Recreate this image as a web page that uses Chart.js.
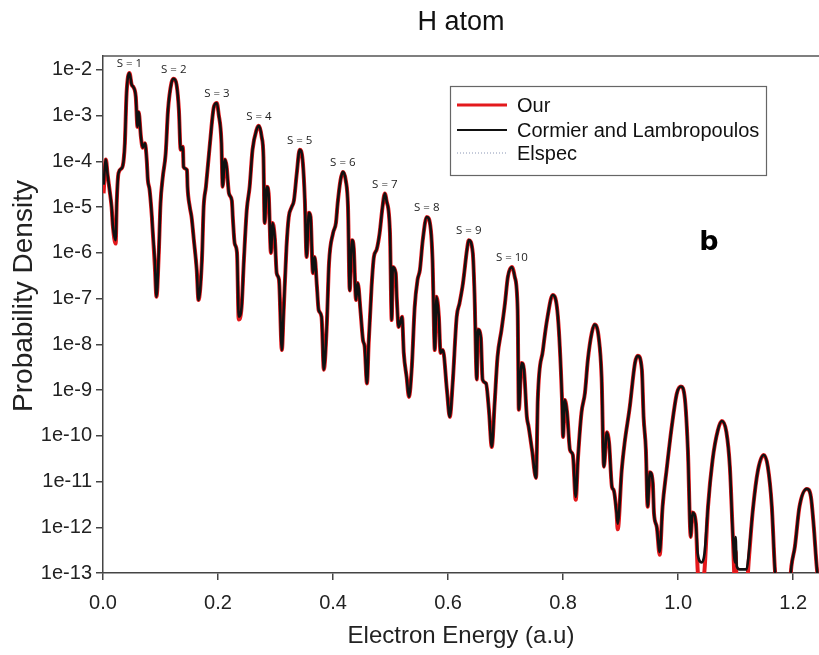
<!DOCTYPE html>
<html lang="en">
<head>
  <meta charset="UTF-8">
  <title>H atom</title>
  <style>
    body { margin: 0; background: #fff; }
    #wrap { width: 819px; height: 655px; position: relative; }
  </style>
  <script src="https://cdn.jsdelivr.net/npm/chart.js"></script>
</head>
<body>
  <div id="wrap"><canvas id="spectrum"></canvas></div>

  <script>
    const energy = [
      0.001,0.005,0.008,0.012,0.015,0.017,0.022,0.024,0.027,0.033,
      0.036,0.038,0.041,0.046,0.050,0.053,0.057,0.060,0.062,0.066,
      0.069,0.073,0.076,0.078,0.081,0.085,0.086,0.090,0.093,0.097,
      0.100,0.104,0.109,0.113,0.119,0.123,0.128,0.132,0.135,0.139,
      0.140,0.146,0.147,0.151,0.154,0.158,0.163,0.166,0.172,0.175,
      0.179,0.186,0.193,0.198,0.201,0.206,0.208,0.212,0.215,0.219,
      0.224,0.226,0.229,0.233,0.236,0.241,0.245,0.250,0.255,0.260,
      0.267,0.271,0.276,0.279,0.281,0.285,0.288,0.292,0.295,0.299,
      0.302,0.306,0.311,0.314,0.319,0.323,0.328,0.332,0.337,0.342,
      0.347,0.351,0.354,0.358,0.361,0.365,0.368,0.372,0.375,0.380,
      0.384,0.389,0.393,0.400,0.405,0.408,0.413,0.417,0.422,0.426,
      0.429,0.433,0.436,0.440,0.443,0.448,0.452,0.455,0.459,0.462,
      0.467,0.471,0.476,0.481,0.486,0.490,0.493,0.499,0.502,0.504,
      0.509,0.511,0.514,0.520,0.523,0.528,0.532,0.537,0.542,0.547,
      0.551,0.556,0.563,0.570,0.573,0.577,0.580,0.584,0.587,0.591,
      0.598,0.603,0.608,0.615,0.620,0.626,0.633,0.636,0.643,0.646,
      0.650,0.652,0.657,0.660,0.666,0.671,0.676,0.681,0.686,0.693,
      0.699,0.704,0.711,0.716,0.721,0.723,0.728,0.732,0.737,0.740,
      0.746,0.753,0.756,0.765,0.773,0.782,0.791,0.798,0.800,0.803,
      0.807,0.812,0.817,0.822,0.826,0.832,0.838,0.843,0.850,0.855,
      0.862,0.867,0.871,0.876,0.880,0.885,0.888,0.893,0.895,0.902,
      0.907,0.916,0.925,0.930,0.937,0.940,0.944,0.947,0.951,0.956,
      0.958,0.963,0.968,0.973,0.980,0.989,0.998,1.005,1.012,1.017,
      1.022,1.025,1.031,1.034,1.041,1.046,1.052,1.060,1.069,1.076,
      1.084,1.090,1.095,1.099,1.100,1.102,1.107,1.119,1.123,1.130,
      1.139,1.149,1.156,1.163,1.168,1.171,1.184,1.194,1.197,1.203,
      1.211,1.224,1.231,1.236,1.241,1.245
    ];

    // Cormier and Lambropoulos (black curve)
    const cormier = [
      3.1e-5,1.1e-4,5.1e-5,2.1e-5,1.0e-5,4.1e-6,1.9e-6,1.4e-5,5.6e-5,7.2e-5,
      1.1e-4,2.5e-4,3.1e-3,8.6e-3,4.7e-3,4.2e-3,2.6e-3,5.7e-4,1.2e-3,3.4e-4,
      2.0e-4,2.5e-4,1.1e-4,3.9e-5,2.4e-5,6.1e-6,3.7e-6,7.0e-7,1.1e-7,1.0e-6,
      1.2e-5,4.6e-5,1.5e-4,1.3e-3,5.2e-3,6.4e-3,4.7e-3,1.3e-3,1.8e-4,2.1e-4,
      7.6e-5,6.5e-5,2.8e-5,1.0e-5,6.1e-6,1.9e-6,4.2e-7,9.3e-8,7.0e-7,1.0e-5,
      2.8e-5,2.5e-4,1.6e-3,1.9e-3,1.1e-3,2.5e-4,2.8e-5,1.1e-4,7.6e-5,2.0e-5,
      1.4e-5,5.2e-6,1.6e-6,1.0e-6,4.0e-8,6.6e-8,7.0e-7,8.7e-6,2.8e-5,1.8e-4,
      4.9e-4,6.0e-4,3.4e-4,1.25e-4,4.5e-6,2.8e-5,2.0e-5,1.0e-6,4.5e-6,1.9e-6,
      3.6e-7,2.6e-7,7.5e-9,4.9e-8,1.3e-6,6.1e-6,1.0e-5,1.4e-5,5.6e-5,1.8e-4,
      1.1e-4,1.4e-5,8.1e-7,7.5e-6,6.1e-6,3.6e-7,8.1e-7,1.8e-7,5.6e-8,4.0e-8,
      2.8e-9,2.4e-8,6.0e-7,2.7e-6,4.5e-6,1.2e-5,3.9e-5,5.9e-5,3.9e-5,1.0e-5,
      1.5e-7,1.9e-6,1.3e-6,9.3e-8,2.2e-7,4.9e-8,1.25e-8,8.8e-9,1.4e-9,1.1e-8,
      1.8e-7,8.1e-7,1.2e-6,2.7e-6,1.0e-5,2.0e-5,1.4e-5,2.7e-6,3.4e-8,4.9e-7,
      3.6e-7,9.3e-8,2.4e-8,4.0e-8,6.5e-9,1.9e-9,7.1e-10,3.2e-9,6.6e-8,2.6e-7,
      4.2e-7,1.9e-6,6.1e-6,3.2e-6,7.0e-7,7.5e-9,1.1e-7,4.0e-8,6.5e-9,7.5e-9,
      1.0e-9,2.6e-10,1.4e-9,4.0e-8,8.0e-8,2.2e-7,1.2e-6,1.9e-6,1.0e-6,1.3e-7,
      1.7e-9,2.1e-8,1.4e-8,1.7e-9,1.4e-9,3.7e-10,5.7e-11,5.2e-10,5.3e-9,2.1e-8,
      8.0e-8,3.0e-7,4.9e-7,3.0e-7,5.6e-8,3.7e-10,3.9e-9,2.8e-9,2.6e-10,1.6e-10,
      4.9e-11,1.2e-11,6.1e-10,7.5e-9,4.0e-8,1.2e-7,4.0e-8,7.1e-10,9.4e-11,6.1e-10,
      3.2e-10,4.9e-11,3.8e-11,4.6e-12,3.4e-11,3.2e-10,8.6e-10,4.5e-9,1.8e-8,2.7e-8,
      1.4e-8,1.9e-9,2.1e-11,1.2e-10,7.0e-11,7.6e-12,6.5e-12,2.1e-12,1.2e-12,1.8e-11,
      7.0e-11,4.3e-10,3.9e-9,5.6e-9,2.8e-9,2.6e-10,4.9e-11,2.8e-12,1.6e-11,9.3e-12,
      2.1e-12,1.0e-12,2.9e-13,2.8e-12,1.8e-11,1.6e-10,8.6e-10,1.2e-9,6.1e-10,4.9e-11,
      6.1e-13,2.1e-12,1.2e-12,2.7e-13,1.7e-13,2.7e-13,2.8e-12,3.0e-11,1.3e-10,2.1e-10,
      1.2e-10,2.1e-11,7.5e-13,1.7e-13,6.1e-13,1.4e-13,1.2e-13,1.2e-13,2.7e-13,2.4e-12,
      1.8e-11,3.8e-11,2.1e-11,2.8e-12,1.4e-13,5e-14,1e-14,5e-14,1.4e-13,3.7e-13,
      2.8e-12,6.9e-12,4.6e-12,1.0e-12,1.4e-13,5e-14
    ];

    // "Our" (red curve) - follows the black one, dips deeper at a few minima
    const our = [
      2.0e-5,1.1e-4,5.1e-5,2.1e-5,1.0e-5,4.1e-6,1.6e-6,1.4e-5,5.6e-5,7.2e-5,
      1.1e-4,2.5e-4,3.1e-3,8.6e-3,4.7e-3,4.2e-3,2.6e-3,5.7e-4,1.2e-3,3.4e-4,
      2.0e-4,2.5e-4,1.1e-4,3.9e-5,2.4e-5,6.1e-6,3.7e-6,5.5e-7,1.1e-7,1.0e-6,
      1.2e-5,4.6e-5,1.5e-4,1.3e-3,5.2e-3,6.4e-3,4.7e-3,1.3e-3,1.8e-4,2.1e-4,
      7.6e-5,6.5e-5,2.8e-5,1.0e-5,6.1e-6,1.9e-6,4.2e-7,9.3e-8,7.0e-7,1.0e-5,
      2.8e-5,2.5e-4,1.6e-3,1.9e-3,1.1e-3,2.5e-4,2.8e-5,1.1e-4,7.6e-5,2.0e-5,
      1.4e-5,5.2e-6,1.6e-6,1.0e-6,3.5e-8,6.6e-8,7.0e-7,8.7e-6,2.8e-5,1.8e-4,
      4.9e-4,6.0e-4,3.4e-4,1.25e-4,4.5e-6,2.8e-5,2.0e-5,1.0e-6,4.5e-6,1.9e-6,
      3.6e-7,2.6e-7,7.5e-9,4.9e-8,1.3e-6,6.1e-6,1.0e-5,1.4e-5,5.6e-5,1.8e-4,
      1.1e-4,1.4e-5,8.1e-7,7.5e-6,6.1e-6,3.6e-7,8.1e-7,1.8e-7,5.6e-8,4.0e-8,
      2.8e-9,2.4e-8,6.0e-7,2.7e-6,4.5e-6,1.2e-5,3.9e-5,5.9e-5,3.9e-5,1.0e-5,
      1.5e-7,1.9e-6,1.3e-6,9.3e-8,2.2e-7,4.9e-8,1.25e-8,8.8e-9,1.4e-9,1.1e-8,
      1.8e-7,8.1e-7,1.2e-6,2.7e-6,1.0e-5,2.0e-5,1.4e-5,2.7e-6,3.4e-8,4.9e-7,
      3.6e-7,9.3e-8,2.4e-8,4.0e-8,6.5e-9,1.9e-9,7.1e-10,3.2e-9,6.6e-8,2.6e-7,
      4.2e-7,1.9e-6,6.1e-6,3.2e-6,7.0e-7,7.5e-9,1.1e-7,4.0e-8,6.5e-9,7.5e-9,
      1.0e-9,2.6e-10,1.4e-9,4.0e-8,8.0e-8,2.2e-7,1.2e-6,1.9e-6,1.0e-6,1.3e-7,
      1.7e-9,2.1e-8,1.4e-8,1.7e-9,1.4e-9,3.7e-10,5.7e-11,5.2e-10,5.3e-9,2.1e-8,
      8.0e-8,3.0e-7,4.9e-7,3.0e-7,5.6e-8,3.7e-10,3.9e-9,2.8e-9,2.6e-10,1.6e-10,
      4.9e-11,1.2e-11,6.1e-10,7.5e-9,4.0e-8,1.2e-7,4.0e-8,7.1e-10,9.4e-11,6.1e-10,
      3.2e-10,4.9e-11,3.8e-11,4.0e-12,3.4e-11,3.2e-10,8.6e-10,4.5e-9,1.8e-8,2.7e-8,
      1.4e-8,1.9e-9,2.1e-11,1.2e-10,7.0e-11,7.6e-12,6.5e-12,2.1e-12,9.0e-13,1.8e-11,
      7.0e-11,4.3e-10,3.9e-9,5.6e-9,2.8e-9,2.6e-10,4.9e-11,2.8e-12,1.6e-11,9.3e-12,
      2.1e-12,1.0e-12,2.5e-13,2.8e-12,1.8e-11,1.6e-10,8.6e-10,1.2e-9,6.1e-10,4.9e-11,
      6.1e-13,2.1e-12,1.2e-12,1.2e-13,4e-14,1.2e-13,2.8e-12,3.0e-11,1.3e-10,2.1e-10,
      1.2e-10,2.1e-11,7.5e-13,6e-14,3e-13,5e-14,5e-14,5e-14,2.0e-13,2.4e-12,
      1.8e-11,3.8e-11,2.1e-11,2.8e-12,1.4e-13,5e-14,1e-14,5e-14,1.4e-13,3.7e-13,
      2.8e-12,6.9e-12,4.6e-12,1.0e-12,1.4e-13,5e-14
    ];

    // Elspec lies on top of the black curve everywhere
    const elspec = cormier;

    const peakLabels = ['S = 1','S = 2','S = 3','S = 4','S = 5','S = 6','S = 7','S = 8','S = 9','S = 10'];
    const peakEnergy = [0.046, 0.123, 0.198, 0.271, 0.342, 0.417, 0.490, 0.563, 0.636, 0.711];
    const peakDensity = [8.6e-3, 6.4e-3, 1.9e-3, 6.0e-4, 1.8e-4, 5.9e-5, 2.0e-5, 6.1e-6, 1.9e-6, 4.9e-7];

    const xTickValues = [0, 0.2, 0.4, 0.6, 0.8, 1.0, 1.2];
    const xTickLabels = ['0.0', '0.2', '0.4', '0.6', '0.8', '1.0', '1.2'];
    const yTickValues = [1e-13, 1e-12, 1e-11, 1e-10, 1e-9, 1e-8, 1e-7, 1e-6, 1e-5, 1e-4, 1e-3, 1e-2];
    const yTickLabels = ['1e-13', '1e-12', '1e-11', '1e-10', '1e-9', '1e-8', '1e-7', '1e-6', '1e-5', '1e-4', '1e-3', '1e-2'];

    const sans = '"Liberation Sans", Arial, sans-serif';

    function toPoints(xs, ys) {
      return xs.map((x, i) => ({ x: x, y: ys[i] }));
    }

    // frame top line, y title, peak labels, panel letter and the boxed legend
    const extras = {
      id: 'extras',
      afterDraw(chart) {
        const ctx = chart.ctx;
        const area = chart.chartArea;
        const xs = chart.scales.x, ys = chart.scales.y;
        ctx.save();

        ctx.strokeStyle = '#555';
        ctx.lineWidth = 1.5;
        ctx.beginPath();
        ctx.moveTo(area.left, area.top);
        ctx.lineTo(area.right, area.top);
        ctx.stroke();

        // y axis title sits a little above the middle of the axis
        ctx.save();
        ctx.translate(24, 296);
        ctx.rotate(-Math.PI / 2);
        ctx.fillStyle = '#222';
        ctx.font = '28px ' + sans;
        ctx.textAlign = 'center';
        ctx.textBaseline = 'middle';
        ctx.fillText('Probability Density', 0, 0);
        ctx.restore();

        ctx.fillStyle = '#222';
        ctx.font = '11.5px "Open Sans", sans-serif';
        ctx.textAlign = 'center';
        ctx.textBaseline = 'middle';
        peakLabels.forEach((t, i) => {
          ctx.fillText(t, xs.getPixelForValue(peakEnergy[i]), ys.getPixelForValue(peakDensity[i]) - 9);
        });

        ctx.fillStyle = '#000';
        ctx.font = 'bold 27px "DejaVu Sans", sans-serif';
        ctx.fillText('b', 709, 243);

        // legend
        ctx.strokeStyle = '#666';
        ctx.lineWidth = 1.2;
        ctx.strokeRect(450.5, 86.5, 316, 89);
        const rows = [105, 130, 153];
        const sample = [
          { color: '#e3191c', width: 3, dash: [] },
          { color: '#111', width: 2, dash: [] },
          { color: '#8a96b4', width: 1, dash: [1, 2] }
        ];
        ctx.textAlign = 'left';
        ctx.font = '20px ' + sans;
        chart.data.datasets.forEach((ds, i) => {
          ctx.beginPath();
          ctx.strokeStyle = sample[i].color;
          ctx.lineWidth = sample[i].width;
          ctx.setLineDash(sample[i].dash);
          ctx.moveTo(457, rows[i]);
          ctx.lineTo(507, rows[i]);
          ctx.stroke();
          ctx.setLineDash([]);
          ctx.fillStyle = '#111';
          ctx.fillText(ds.label, 517, rows[i] + 1);
        });
        ctx.restore();
      }
    };

    new Chart(document.getElementById('spectrum'), {
      type: 'line',
      data: {
        datasets: [
          {
            label: 'Our',
            data: toPoints(energy, our),
            borderColor: '#e3191c',
            borderWidth: 4,
            order: 3
          },
          {
            label: 'Cormier and Lambropoulos',
            data: toPoints(energy, cormier),
            borderColor: '#111',
            borderWidth: 2.6,
            order: 1
          },
          {
            label: 'Elspec',
            data: toPoints(energy, elspec),
            borderColor: '#8a96b4',
            borderWidth: 1,
            borderDash: [1, 2],
            order: 2
          }
        ]
      },
      options: {
        responsive: true,
        maintainAspectRatio: false,
        animation: false,
        layout: { padding: 0 },
        elements: {
          point: { radius: 0 },
          line: { cubicInterpolationMode: 'monotone', fill: false }
        },
        datasets: { line: { clip: 0 } },
        plugins: {
          legend: { display: false },
          tooltip: { enabled: false },
          title: {
            display: true,
            fullSize: false,
            text: 'H atom',
            color: '#111',
            font: { family: sans, size: 27, weight: 'normal' },
            padding: { top: 6, bottom: 17.6 }
          }
        },
        scales: {
          x: {
            type: 'linear',
            min: 0,
            max: 1.245,
            afterBuildTicks: s => { s.ticks = xTickValues.map(v => ({ value: v })); },
            afterFit: s => { s.height = 82; },
            ticks: {
              callback: (v, i) => xTickLabels[i],
              font: { family: sans, size: 20 },
              color: '#222',
              padding: 11,
              maxRotation: 0,
              autoSkip: false
            },
            grid: { drawOnChartArea: false, drawTicks: true, tickLength: 7, color: '#444', lineWidth: 1.5 },
            border: { color: '#444', width: 1.5 },
            title: {
              display: true,
              text: 'Electron Energy (a.u)',
              color: '#222',
              font: { family: sans, size: 24 },
              padding: { top: 0, bottom: 4 }
            }
          },
          y: {
            type: 'logarithmic',
            min: 1e-13,
            max: 0.0202,
            afterBuildTicks: s => { s.ticks = yTickValues.map(v => ({ value: v })); },
            afterFit: s => { s.width = 103; },
            ticks: {
              callback: (v, i) => yTickLabels[i],
              font: { family: sans, size: 20 },
              color: '#222',
              padding: 4,
              autoSkip: false
            },
            grid: { drawOnChartArea: false, drawTicks: true, tickLength: 7, color: '#444', lineWidth: 1.5 },
            border: { color: '#444', width: 1.5 }
          }
        }
      },
      plugins: [extras]
    });
  </script>
</body>
</html>
